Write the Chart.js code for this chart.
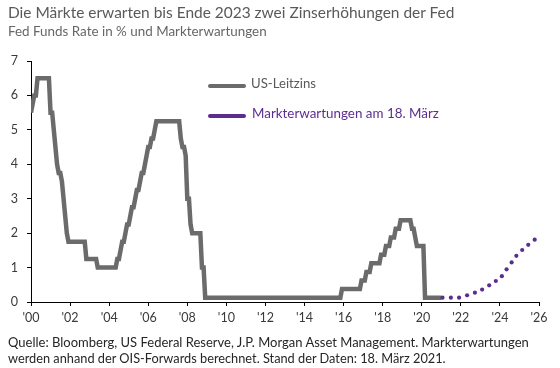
<!DOCTYPE html>
<html lang="de">
<head>
<meta charset="utf-8">
<script src="https://cdn.jsdelivr.net/npm/chart.js@4.4.1/dist/chart.umd.min.js"></script>
<style>
  html, body { margin:0; padding:0; background:#fff; }
  #wrap { position:relative; width:560px; height:368px; overflow:hidden; font-family:Lato, sans-serif; }
  #wrap canvas { position:absolute; left:0; top:0; }
  .txt { position:absolute; white-space:nowrap; line-height:1; }
  .leg-line { position:absolute; height:4px; border-radius:2px; }
</style>
</head>
<body>
<div id="wrap">
  <canvas id="chart" width="560" height="368"></canvas>
  <div class="txt" id="titel" style="color:#595959">Die Märkte erwarten bis Ende 2023 zwei Zinserhöhungen der Fed</div>
  <div class="txt" id="untertitel" style="color:#666">Fed Funds Rate in % und Markterwartungen</div>
  <div class="leg-line" style="left:208px;top:84px;width:38px;background:#6b6b6b"></div>
  <div class="txt" id="leg1" style="color:#595959">US-Leitzins</div>
  <div class="leg-line" style="left:208px;top:114px;width:38px;background:#5c2d91"></div>
  <div class="txt" id="leg2" style="color:#5c2d91">Markterwartungen am 18. März</div>
  <div class="txt" id="quelle1" style="color:#262626">Quelle: Bloomberg, US Federal Reserve, J.P. Morgan Asset Management. Markterwartungen</div>
  <div class="txt" id="quelle2" style="color:#262626">werden anhand der OIS-Forwards berechnet. Stand der Daten: 18. März 2021.</div>
</div>
<script>
// Fed Funds Zielsatz, Monatswerte ab Jan 2000 (ab Dez 2008 Mitte der Spanne)
const leitzins = [
  5.5, 5.75, 6, 6, 6.5, 6.5, 6.5, 6.5, 6.5, 6.5, 6.5, 6.5,                 // 2000
  5.5, 5.5, 5, 4.5, 4, 3.75, 3.75, 3.5, 3, 2.5, 2, 1.75,                   // 2001
  1.75, 1.75, 1.75, 1.75, 1.75, 1.75, 1.75, 1.75, 1.75, 1.75, 1.25, 1.25, // 2002
  1.25, 1.25, 1.25, 1.25, 1.25, 1, 1, 1, 1, 1, 1, 1,                       // 2003
  1, 1, 1, 1, 1, 1.25, 1.25, 1.5, 1.75, 1.75, 2, 2.25,                     // 2004
  2.25, 2.5, 2.75, 2.75, 3, 3.25, 3.25, 3.5, 3.75, 3.75, 4, 4.25,          // 2005
  4.5, 4.5, 4.75, 4.75, 5, 5.25, 5.25, 5.25, 5.25, 5.25, 5.25, 5.25,       // 2006
  5.25, 5.25, 5.25, 5.25, 5.25, 5.25, 5.25, 5.25, 4.75, 4.5, 4.5, 4.25,    // 2007
  3, 3, 2.25, 2, 2, 2, 2, 2, 2, 1, 1, 0.125,                               // 2008
  0.125, 0.125, 0.125, 0.125, 0.125, 0.125, 0.125, 0.125, 0.125, 0.125, 0.125, 0.125, // 2009
  0.125, 0.125, 0.125, 0.125, 0.125, 0.125, 0.125, 0.125, 0.125, 0.125, 0.125, 0.125, // 2010
  0.125, 0.125, 0.125, 0.125, 0.125, 0.125, 0.125, 0.125, 0.125, 0.125, 0.125, 0.125, // 2011
  0.125, 0.125, 0.125, 0.125, 0.125, 0.125, 0.125, 0.125, 0.125, 0.125, 0.125, 0.125, // 2012
  0.125, 0.125, 0.125, 0.125, 0.125, 0.125, 0.125, 0.125, 0.125, 0.125, 0.125, 0.125, // 2013
  0.125, 0.125, 0.125, 0.125, 0.125, 0.125, 0.125, 0.125, 0.125, 0.125, 0.125, 0.125, // 2014
  0.125, 0.125, 0.125, 0.125, 0.125, 0.125, 0.125, 0.125, 0.125, 0.125, 0.125, 0.375, // 2015
  0.375, 0.375, 0.375, 0.375, 0.375, 0.375, 0.375, 0.375, 0.375, 0.375, 0.375, 0.625, // 2016
  0.625, 0.625, 0.875, 0.875, 0.875, 1.125, 1.125, 1.125, 1.125, 1.125, 1.125, 1.375, // 2017
  1.375, 1.375, 1.625, 1.625, 1.625, 1.875, 1.875, 1.875, 2.125, 2.125, 2.125, 2.375, // 2018
  2.375, 2.375, 2.375, 2.375, 2.375, 2.375, 2.125, 2.125, 1.875, 1.625, 1.625, 1.625, // 2019
  1.625, 1.625, 0.125, 0.125, 0.125, 0.125, 0.125, 0.125, 0.125, 0.125, 0.125, 0.125, // 2020
  0.125                                                                    // 2021
];

// Markterwartungen (OIS-Forwards), Zeitpunkt in Jahren ab 2000
const marktZeit  = [21.06, 21.49, 21.91, 22.32, 22.72, 23.09, 23.45, 23.79, 24.1, 24.34, 24.6, 24.84, 25.14, 25.45, 25.78];
const marktWerte = [0.125, 0.125, 0.125, 0.195, 0.27, 0.36, 0.485, 0.61, 0.75, 0.95, 1.15, 1.34, 1.51, 1.66, 1.81];

const xTicks = ["'00", "'02", "'04", "'06", "'08", "'10", "'12", "'14", "'16", "'18", "'20", "'22", "'24", "'26"];

const GRAU = '#6b6b6b';
const LILA = '#5c2d91';
const FONT = 'Lato, sans-serif';

// Texte auf Breite bringen und an Grundlinie ausrichten
const mc = document.createElement('canvas').getContext('2d');
function place(id, left, baseline, width) {
  const el = document.getElementById(id);
  mc.font = '100px Lato';
  const m = mc.measureText(el.textContent);
  const size = width * 100 / m.width;
  const asc = m.fontBoundingBoxAscent * size / 100;
  const desc = m.fontBoundingBoxDescent * size / 100;
  el.style.fontSize = size + 'px';
  el.style.left = left + 'px';
  el.style.top = (baseline - (size + asc - desc) / 2) + 'px';
}
place('titel',      8,   19,  447);
place('untertitel', 8,   37,  259);
place('leg1',       251, 89,  65);
place('leg2',       252, 119, 187);
place('quelle1',    8,   347.5, 522);
place('quelle2',    8,   363, 439);

const leitzinsPunkte = leitzins.map((v, i) => ({ x: i / 12, y: v }));
const marktPunkte = marktZeit.map((t, i) => ({ x: t, y: marktWerte[i] }));

new Chart(document.getElementById('chart'), {
  type: 'line',
  data: {
    datasets: [
      { label: 'US-Leitzins', data: leitzinsPunkte, borderColor: GRAU, borderWidth: 4.5,
        pointRadius: 0, tension: 0, borderJoinStyle: 'miter', order: 2 },
      { label: 'Markterwartungen am 18. März', data: marktPunkte, showLine: false,
        pointRadius: 2.1, pointBorderWidth: 0, pointBackgroundColor: LILA, order: 1 },
    ],
  },
  options: {
    responsive: false, animation: false,
    layout: { padding: { left: 0, top: 61, right: 21, bottom: 46 } },
    plugins: { legend: { display: false }, tooltip: { enabled: false } },
    scales: {
      x: {
        type: 'linear', min: 0, max: 26,
        afterFit: s => { s.height = 20; },
        ticks: { stepSize: 2, autoSkip: false, maxRotation: 0, padding: 4, color: '#3a3a3a',
                 font: { family: FONT, size: 12.5 }, callback: v => xTicks[v / 2] },
        grid: { drawOnChartArea: false, drawTicks: true, tickLength: 4, color: '#000' },
        border: { color: '#000', width: 1 },
      },
      y: {
        min: 0, max: 7,
        afterFit: s => { s.width = 31; },
        ticks: { stepSize: 1, padding: 9, color: '#3a3a3a', font: { family: FONT, size: 12.5 } },
        grid: { drawOnChartArea: false, drawTicks: true, tickLength: 4, color: '#000' },
        border: { color: '#000', width: 1 },
      },
    },
  },
});
</script>
</body>
</html>
